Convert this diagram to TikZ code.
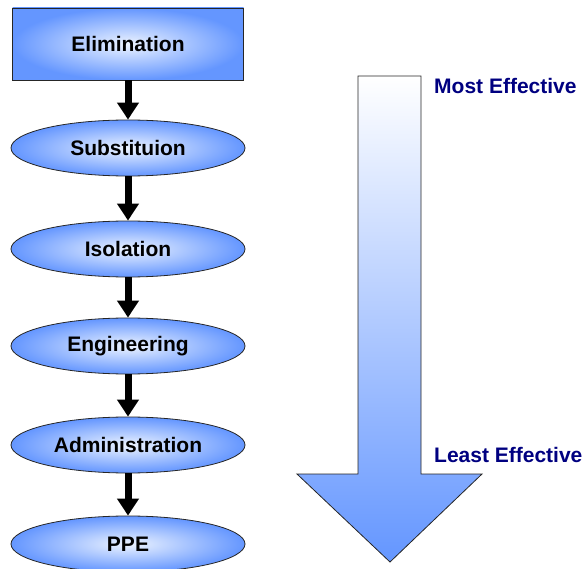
\documentclass[tikz,border=0pt]{standalone}
\usepackage{fontspec}
\setmainfont{Liberation Sans}
\usetikzlibrary{shapes.geometric,arrows.meta}
\definecolor{edgeblue}{RGB}{100,150,255}
\definecolor{paleblue}{RGB}{236,243,255}
\definecolor{navy}{RGB}{0,0,128}
\tikzset{
  box/.style={draw=black!85, line width=0.8pt, inner color=paleblue, outer color=edgeblue,
    minimum width=231pt, minimum height=72pt, inner sep=0pt,
    font=\fontsize{21}{24}\selectfont\bfseries},
  oval/.style={ellipse, draw=black!85, line width=0.8pt, inner color=paleblue, outer color=edgeblue,
    minimum width=234pt, minimum height=56pt, inner sep=0pt,
    font=\fontsize{21}{24}\selectfont\bfseries},
  flow/.style={line width=7pt, -{Triangle[width=21pt,length=17pt]}},
  rank/.style={text=navy, font=\fontsize{21}{24}\selectfont\bfseries, anchor=west, inner sep=0pt}
}
\begin{document}
\begin{tikzpicture}[x=1pt,y=-1pt]
\useasboundingbox (0,0) rectangle (584,569);
% hierarchy of controls
\node[box]  (elim) at (128,44)  {Elimination};
\node[oval] (subs) at (128,148) {Substituion};
\node[oval] (isol) at (128,249) {Isolation};
\node[oval] (engi) at (128,346) {Engineering};
\node[oval] (admi) at (128,445) {Administration};
\node[oval] (ppe)  at (128,544) {PPE};
\draw[flow] (elim.south) -- (subs.north);
\draw[flow] (subs.south) -- (isol.north);
\draw[flow] (isol.south) -- (engi.north);
\draw[flow] (engi.south) -- (admi.north);
\draw[flow] (admi.south) -- (ppe.north);
% effectiveness scale
\path[draw=black!85, line width=0.8pt, top color=white, bottom color=edgeblue]
  (358,76) -- (421,76) -- (421,474) -- (482,474) -- (390,562) -- (297,474) -- (358,474) -- cycle;
\node[rank] (most)  at (434,86)  {Most Effective};
\node[rank] (least) at (434,455) {Least Effective};
\end{tikzpicture}
\end{document}
